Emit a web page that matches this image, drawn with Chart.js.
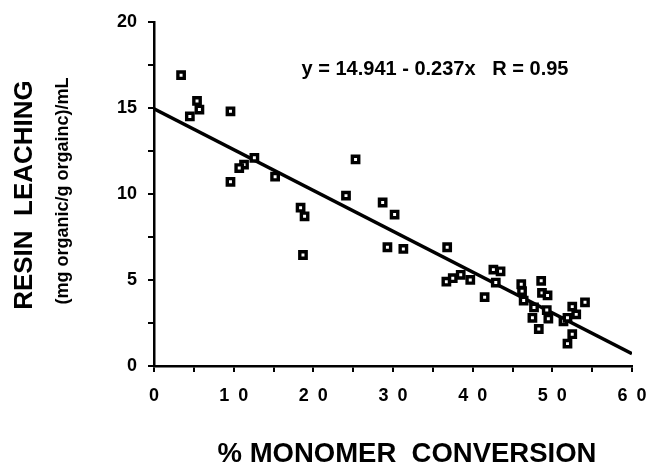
<!DOCTYPE html>
<html>
<head>
<meta charset="utf-8">
<script src="https://cdn.jsdelivr.net/npm/chart.js@4/dist/chart.umd.min.js"></script>
<style>
  html, body { margin: 0; padding: 0; background: #fff; }
  #wrap { width: 668px; height: 469px; }
</style>
</head>
<body>
<div id="wrap"><canvas id="chart"></canvas></div>
<script>
// % monomer conversion vs resin leaching
var conversion = [3.4, 5.4, 5.7, 4.5, 9.6, 12.6, 11.3, 10.7, 9.6, 15.2, 25.3,
  24.1, 18.4, 18.9, 18.7, 28.7, 30.2, 29.3, 31.3, 36.8,
  36.7, 37.5, 38.5, 39.7, 41.5, 42.6, 43.5, 42.9,
  46.1, 46.2, 46.4, 47.7, 47.5, 48.6, 48.7, 49.4, 49.3, 49.5, 48.3,
  51.4, 51.9, 52.5, 53.0, 54.1, 52.5, 51.9];
var leaching = [16.9, 15.4, 14.9, 14.5, 14.8, 12.1, 11.7, 11.5, 10.7, 11.0, 12.0,
  9.9, 9.2, 8.7, 6.45, 9.5, 8.8, 6.9, 6.8, 6.9,
  4.9, 5.1, 5.3, 5.0, 4.0, 5.6, 5.5, 4.85,
  4.75, 4.35, 3.8, 3.4, 2.8, 4.95, 4.25, 4.1, 3.25, 2.75, 2.15,
  2.6, 2.8, 3.45, 3.0, 3.7, 1.85, 1.3];

// regression line endpoints (y = 14.941 - 0.237x)
var fitX = [0, 60];
var fitY = [14.941, 0.721];

var xTickLabels = ['0', '1\u20020', '2\u20020', '3\u20020', '4\u20020', '5\u20020', '6\u20020'];
var yTickLabels = ['0', '5', '10', '15', '20'];

var points = conversion.map(function (x, i) { return { x: x, y: leaching[i] }; });
var fitLine = fitX.map(function (x, i) { return { x: x, y: fitY[i] }; });

var FONT = '"Liberation Sans", Arial, Helvetica, sans-serif';

var textPlugin = {
  id: 'labels',
  afterDraw: function (chart) {
    var c = chart.ctx;
    c.save();
    c.fillStyle = '#000';
    c.textAlign = 'center';
    c.textBaseline = 'middle';
    // equation
    c.font = 'bold 20px ' + FONT;
    c.fillText('y = 14.941 - 0.237x   R = 0.95', 435, 69);
    // x title
    c.font = 'bold 27.5px ' + FONT;
    c.fillText('% MONOMER  CONVERSION', 407, 454);
    // y titles
    c.translate(25, 195);
    c.rotate(-Math.PI / 2);
    c.font = 'bold 26px ' + FONT;
    c.fillText('RESIN  LEACHING', 0, 0);
    c.font = 'bold 18px ' + FONT;
    c.fillText('(mg organic/g orgainc)/mL', 4, 38);
    c.restore();
  }
};

new Chart(document.getElementById('chart'), {
  type: 'scatter',
  data: {
    datasets: [{
      data: points,
      pointStyle: 'rect',
      pointRadius: 4.5,
      pointHoverRadius: 4.5,
      backgroundColor: '#fff',
      borderColor: '#000',
      borderWidth: 3.4
    }, {
      type: 'line',
      data: fitLine,
      borderColor: '#000',
      borderWidth: 3.5,
      pointRadius: 0,
      fill: false
    }]
  },
  plugins: [textPlugin],
  options: {
    responsive: true,
    maintainAspectRatio: false,
    animation: false,
    events: [],
    layout: { padding: { left: 0, right: 36, top: 21, bottom: 0 } },
    plugins: { legend: { display: false }, tooltip: { enabled: false } },
    scales: {
      x: {
        type: 'linear',
        min: 0, max: 60,
        afterFit: function (s) { s.height = 103; },
        border: { display: true, color: '#000', width: 2.5 },
        grid: { drawOnChartArea: false, drawTicks: true, tickLength: 6, color: '#000', lineWidth: 2 },
        ticks: {
          stepSize: 5,
          padding: 13,
          maxRotation: 0,
          autoSkip: false,
          color: '#000',
          font: { family: FONT, size: 18, weight: 'bold' },
          callback: function (v) { return v % 10 === 0 ? xTickLabels[v / 10] : ''; }
        }
      },
      y: {
        min: 0, max: 20,
        afterFit: function (s) { s.width = 154; },
        border: { display: true, color: '#000', width: 2.5 },
        grid: { drawOnChartArea: false, drawTicks: true, tickLength: 6, color: '#000', lineWidth: 2 },
        ticks: {
          stepSize: 2.5,
          padding: 11,
          autoSkip: false,
          color: '#000',
          font: { family: FONT, size: 18, weight: 'bold' },
          callback: function (v) { return v % 5 === 0 ? yTickLabels[v / 5] : ''; }
        }
      }
    }
  }
});
</script>
</body>
</html>
